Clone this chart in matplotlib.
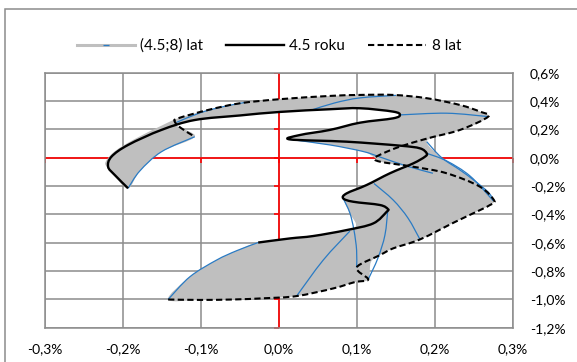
import matplotlib
matplotlib.use("Agg")
import matplotlib.pyplot as plt
import numpy as np
from matplotlib.lines import Line2D
from matplotlib.legend_handler import HandlerTuple
from matplotlib.patches import Rectangle, PathPatch
from matplotlib.path import Path

# values in percent
# "4.5 roku" curve
x45 = [-0.0265, 0.0141, 0.0440, 0.0868, 0.1209, 0.1381, 0.1397, 0.1295, 0.0953, 0.0824,
       0.0868, 0.1124, 0.1423, 0.1722, 0.1872, 0.1894, 0.1808, 0.1551, 0.0868, 0.0141,
       0.0269, 0.0654, 0.1038, 0.1465, 0.1551, 0.1465, 0.1038, 0.0654, 0.0013, -0.0500,
       -0.1077, -0.1504, -0.1932, -0.2145, -0.2188, -0.2103, -0.1932]
y45 = [-0.599, -0.570, -0.553, -0.511, -0.464, -0.382, -0.363, -0.334, -0.311, -0.287,
       -0.252, -0.193, -0.110, -0.040, 0.007, 0.031, 0.066, 0.085, 0.113, 0.129,
       0.160, 0.196, 0.247, 0.278, 0.302, 0.325, 0.349, 0.342, 0.323, 0.298,
       0.266, 0.196, 0.090, 0.007, -0.064, -0.122, -0.216]

# "8 lat" curve
x8 = [-0.1419, -0.1013, -0.0586, -0.0179, 0.0227, 0.0696, 0.0974, 0.1145, 0.0996, 0.1295,
      0.1465, 0.1808, 0.2256, 0.2577, 0.2705, 0.2760, 0.2577, 0.2150, 0.1722, 0.1295,
      0.1231, 0.1337, 0.1551, 0.1910, 0.2321, 0.2683, 0.2577, 0.2321, 0.1894, 0.1465,
      0.1038, 0.0654, 0.0013, -0.0500, -0.0906, -0.1291, -0.1333, -0.1256, -0.1077]
y8 = [-1.001, -1.004, -1.001, -0.992, -0.977, -0.923, -0.878, -0.859, -0.775, -0.688,
      -0.640, -0.577, -0.454, -0.370, -0.334, -0.304, -0.205, -0.110, -0.064, -0.028,
      -0.002, 0.031, 0.078, 0.137, 0.196, 0.290, 0.325, 0.372, 0.420, 0.443,
      0.443, 0.436, 0.413, 0.384, 0.337, 0.278, 0.254, 0.210, 0.148]

# outline of the area swept between 4.5 and 8 years
band_x = [-0.1419, -0.1013, -0.0586, -0.0179, 0.0227, 0.0696, 0.0974, 0.1145,
          0.1179, 0.1295, 0.1465, 0.1808, 0.2256, 0.2577, 0.2705, 0.2760,
          0.2679, 0.2513, 0.2321, 0.2086, 0.1894,
          0.2106, 0.2449, 0.2683,
          0.2577, 0.2321, 0.1894, 0.1465, 0.1038, 0.0654, 0.0013, -0.0500, -0.0906, -0.1291,
          -0.1504, -0.1846, -0.2103, -0.2220, -0.2200, -0.2110, -0.1932,
          -0.1782, -0.1504, -0.1077, -0.1308,
          -0.1077, -0.0500, 0.0013, 0.0654, 0.1038, 0.1465, 0.1551,
          0.1465, 0.1038, 0.0654, 0.0269, 0.0141,
          0.0654, 0.1077, 0.1231, 0.1295, 0.1615,
          0.1423, 0.1124, 0.0868, 0.0824,
          0.0910, 0.0962, 0.0440, 0.0141, -0.0265,
          -0.0538, -0.0799, -0.1141]
band_y = [-1.001, -1.004, -1.001, -0.992, -0.977, -0.923, -0.878, -0.859,
          -0.737, -0.688, -0.640, -0.577, -0.454, -0.370, -0.334, -0.304,
          -0.242, -0.165, -0.087, 0.000, 0.113,
          0.160, 0.219, 0.290,
          0.325, 0.372, 0.420, 0.443, 0.443, 0.436, 0.413, 0.384, 0.337, 0.278,
          0.226, 0.132, 0.045, -0.030, -0.068, -0.126, -0.216,
          -0.094, 0.042, 0.148, 0.228,
          0.266, 0.298, 0.323, 0.342, 0.349, 0.325, 0.302,
          0.278, 0.247, 0.196, 0.160, 0.129,
          0.090, 0.044, -0.002, -0.028, -0.066,
          -0.110, -0.193, -0.252, -0.287,
          -0.393, -0.499, -0.553, -0.570, -0.599,
          -0.656, -0.723, -0.841]

# blue paths of single points between 4.5 and 8 years
path_start = ([-0.0265, -0.0538, -0.0799, -0.1141, -0.1419], [-0.599, -0.656, -0.723, -0.841, -1.001])
path_end = ([-0.1932, -0.1782, -0.1504, -0.1077], [-0.216, -0.094, 0.042, 0.148])
path_a = ([-0.1312, -0.1013, -0.0731, -0.0436], [0.249, 0.316, 0.358, 0.390])
path_b = ([0.0423, 0.0718, 0.1038, 0.1500], [0.337, 0.387, 0.422, 0.440])
path_c = ([0.1551, 0.2150, 0.2683], [0.302, 0.314, 0.290])
path_d = ([0.0141, 0.0654, 0.1077, 0.1295, 0.1637, 0.1974], [0.129, 0.090, 0.044, 0.005, -0.059, -0.110])
path_e = ([0.1894, 0.2150, 0.2449, 0.2747], [0.031, -0.023, -0.129, -0.304])
path_f = ([0.1894, 0.2086, 0.2321, 0.2513, 0.2679, 0.2760], [0.113, 0.000, -0.087, -0.165, -0.242, -0.304])
path_g = ([0.1397, 0.1359, 0.1269, 0.1145], [-0.363, -0.546, -0.709, -0.859])
path_h = ([0.0824, 0.0910, 0.0962, 0.0996, 0.0996], [-0.287, -0.391, -0.511, -0.652, -0.775])
path_i = ([0.1218, 0.1465, 0.1654, 0.1808], [-0.182, -0.299, -0.426, -0.577])
path_j = ([0.0910, 0.0568, 0.0227], [-0.518, -0.723, -0.977])
blue_paths = [path_start, path_end, path_a, path_b, path_c, path_d, path_e,
              path_f, path_g, path_h, path_i, path_j]

xticks = [-0.3, -0.2, -0.1, 0.0, 0.1, 0.2, 0.3]
yticks = [-1.2, -1.0, -0.8, -0.6, -0.4, -0.2, 0.0, 0.2, 0.4, 0.6]
labels = ["(4.5;8) lat", "4.5 roku", "8 lat"]

GRAY = "#bfbfbf"; BLUE = "#2a7bc4"; GRID = "#8c8c8c"; RED = "#ff0000"


def pct(v):
    return f"{v:.1f}%".replace(".", ",")


def smooth_path(xs, ys, closed=False):
    """Excel-style smoothed line: Catmull-Rom through the points as cubic Beziers."""
    p = np.column_stack([xs, ys]).astype(float)
    n = len(p)
    if closed:
        ext = np.vstack([p[-1], p, p[0], p[1]])
    else:
        ext = np.vstack([p[0], p, p[-1]])
    verts = [p[0]]
    codes = [Path.MOVETO]
    segs = n if closed else n - 1
    for i in range(segs):
        p0, p1, p2, p3 = ext[i], ext[i + 1], ext[i + 2], ext[i + 3]
        verts += [p1 + (p2 - p0) / 6, p2 - (p3 - p1) / 6, p2]
        codes += [Path.CURVE4] * 3
    if closed:
        verts.append(p[0]); codes.append(Path.CLOSEPOLY)
    return Path(verts, codes)


plt.rcParams["font.family"] = ["Lato", "DejaVu Sans"]
fig = plt.figure(figsize=(5.77, 3.62), dpi=100)
ax = fig.add_axes([0.0775, 0.0948, 0.8116, 0.7044])

ax.set_xlim(-0.3, 0.3)
ax.set_ylim(-1.2, 0.6)
ax.set_xticks(xticks)
ax.set_yticks(yticks)
ax.set_xticklabels([pct(v) for v in xticks])
ax.set_yticklabels([pct(v) for v in yticks])
ax.yaxis.tick_right()
ax.tick_params(axis="x", length=0, pad=11, labelsize=10)
ax.tick_params(axis="y", length=0, pad=12, labelsize=10)
for lab in ax.get_yticklabels():
    lab.set_horizontalalignment("left")
ax.grid(True, color=GRID, lw=1.1, zorder=0)
ax.set_axisbelow(True)
for s in ax.spines.values():
    s.set_color(GRID)
    s.set_linewidth(1.1)

# red zero axes with outward ticks
ax.axhline(0, color=RED, lw=1.2, zorder=1)
ax.axvline(0, color=RED, lw=1.2, zorder=1)
ax.plot(xticks, [0] * len(xticks), ls="none", marker=3, ms=3.5, mew=1.2, color=RED, zorder=1)
ax.plot([0] * len(yticks), yticks, ls="none", marker=0, ms=3.5, mew=1.2, color=RED, zorder=1)

ax.add_patch(PathPatch(smooth_path(band_x, band_y, closed=True), facecolor=GRAY, lw=0, zorder=2))
for px, py in blue_paths:
    ax.add_patch(PathPatch(smooth_path(px, py), facecolor="none", edgecolor=BLUE, lw=0.9, zorder=3))
ax.add_patch(PathPatch(smooth_path(x45, y45), facecolor="none", edgecolor="black", lw=1.7,
                       joinstyle="round", zorder=4))
ax.add_patch(PathPatch(smooth_path(x8, y8), facecolor="none", edgecolor="black", lw=1.5,
                       ls=(0, (3, 1.6)), zorder=4))

h_band = (Line2D([], [], color=GRAY, lw=2.2),
          Line2D([], [], color=BLUE, lw=0, marker="_", ms=4, mew=0.9))
h45 = Line2D([], [], color="black", lw=1.7)
h8 = Line2D([], [], color="black", lw=1.5, ls=(0, (3, 1.6)))
fig.legend([h_band, h45, h8], labels, loc="center", bbox_to_anchor=(0.466, 0.873),
           ncol=3, frameon=False, fontsize=11, handlelength=3.8, handletextpad=0.35,
           columnspacing=1.5, handler_map={tuple: HandlerTuple(ndivide=1, pad=0)})

fig.patches.append(Rectangle((5 / 577, -0.05), 1.1, 1.05 - 9 / 362, transform=fig.transFigure,
                             fill=False, edgecolor=GRID, lw=1.1))

fig.savefig("out.png", dpi=100)
